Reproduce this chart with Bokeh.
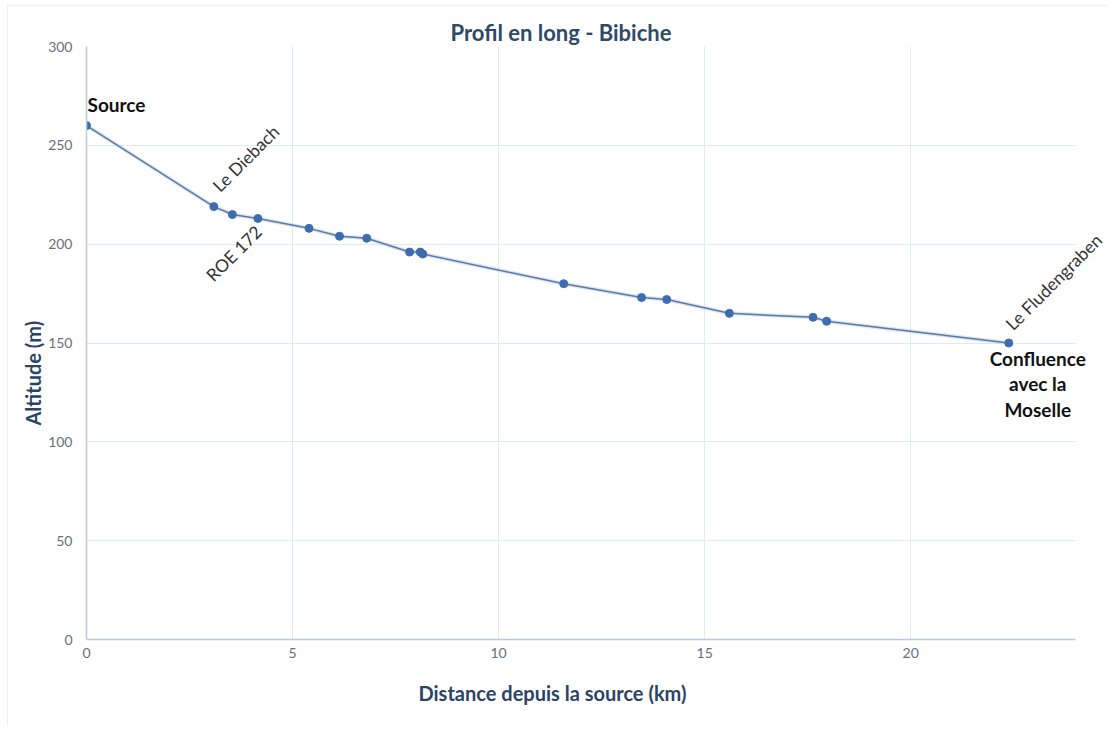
from bokeh.plotting import figure
from bokeh.models import Range1d, SingleIntervalTicker, Label, Title, BoxAnnotation
from bokeh.embed import file_html
from bokeh.resources import INLINE
import math

# Data
dist_km = [0, 3.09, 3.54, 4.16, 5.40, 6.14, 6.80, 7.84, 8.10, 8.16,
           11.58, 13.47, 14.08, 15.60, 17.63, 17.96, 22.38]
altitude_m = [260, 219, 215, 213, 208, 204, 203, 196, 196, 195,
              180, 173, 172, 165, 163, 161, 150]

title_text = "Profil en long - Bibiche"
x_label = "Distance depuis la source (km)"
y_label = "Altitude (m)"
x_axis_end = 24

# annotations: text and index of the point they refer to
rot_labels = ["Le Diebach", "ROE 172", "Le Fludengraben"]
rot_label_idx = [1, 3, 16]
bold_labels = ["Source", "Confluence\navec la\nMoselle"]
bold_label_idx = [0, 16]

FONT = "Lato"
AXIS_TITLE_COLOR = "#2b4466"

p = figure(width=1100, height=720, output_backend="svg", toolbar_location=None,
           x_range=Range1d(0, 24.8), y_range=Range1d(0, 300),
           min_border_left=78, min_border_right=0, min_border_top=40,
           min_border_bottom=87)
p.styles = {"margin-left": "7px", "margin-top": "5px",
            "border-left": "1px solid #eeeeee", "border-top": "1px solid #eeeeee"}

p.title.text = title_text
p.title.align = "left"
p.title.offset = 364
p.title.text_font = FONT
p.title.text_font_size = "22px"
p.title.text_color = "#2d4a6b"
p.title.standoff = 2

p.outline_line_color = None
p.background_fill_color = "white"
p.border_fill_color = "white"

for ax in (p.xaxis[0], p.yaxis[0]):
    ax.axis_line_color = "#b7cbe0"
    ax.axis_line_width = 1.5
    ax.major_tick_line_color = None
    ax.minor_tick_line_color = None
    ax.major_label_text_font = FONT
    ax.major_label_text_font_size = "14px"
    ax.major_label_text_color = "#66707c"

p.xaxis.ticker = SingleIntervalTicker(interval=5)
p.yaxis.ticker = SingleIntervalTicker(interval=50)
p.xaxis.bounds = (0, x_axis_end)
p.xaxis.major_label_standoff = 2
p.yaxis.major_label_standoff = 8

p.add_layout(Title(text=x_label, align="left", offset=332, text_font=FONT,
                   text_font_size="20px", text_font_style="bold",
                   text_color=AXIS_TITLE_COLOR, standoff=40,
                   vertical_align="top"), "below")
p.add_layout(Title(text=y_label, align="left", offset=214, text_font=FONT,
                   text_font_size="20px", text_font_style="bold",
                   text_color=AXIS_TITLE_COLOR, standoff=2), "left")

p.xgrid.grid_line_color = "#e1e9f1"
p.ygrid.grid_line_color = "#e1e9f1"

# hide grid beyond the axis end (extra room is only for the labels)
p.add_layout(BoxAnnotation(left=x_axis_end, fill_color="white", fill_alpha=1,
                           line_color=None, level="underlay"))

p.line(dist_km, altitude_m, line_color="#b9cde6", line_width=4, line_alpha=0.5)
p.line(dist_km, altitude_m, line_color="#5b7aa6", line_width=1.5)
p.scatter(dist_km, altitude_m, size=8, fill_color="#3d6caf", line_color="#3d6caf")

rot_offsets = [(32, 48), (-24, -35), (45, 61)]
for txt, i, (dx, dy) in zip(rot_labels, rot_label_idx, rot_offsets):
    p.add_layout(Label(x=dist_km[i], y=altitude_m[i], text=txt, angle=math.pi / 4,
                       x_offset=dx, y_offset=dy, text_align="center",
                       text_baseline="middle", text_font=FONT,
                       text_font_size="17.5px", text_color="#333333"))

bold_offsets = [(30, 21), (29, -41)]
for txt, i, (dx, dy) in zip(bold_labels, bold_label_idx, bold_offsets):
    p.add_layout(Label(x=dist_km[i], y=altitude_m[i], text=txt,
                       x_offset=dx, y_offset=dy, text_align="center",
                       text_baseline="middle", text_font=FONT,
                       text_font_size="19px", text_font_style="bold",
                       text_line_height=1.12, text_color="#111111"))

open("out.html", "w").write(file_html(p, INLINE))
